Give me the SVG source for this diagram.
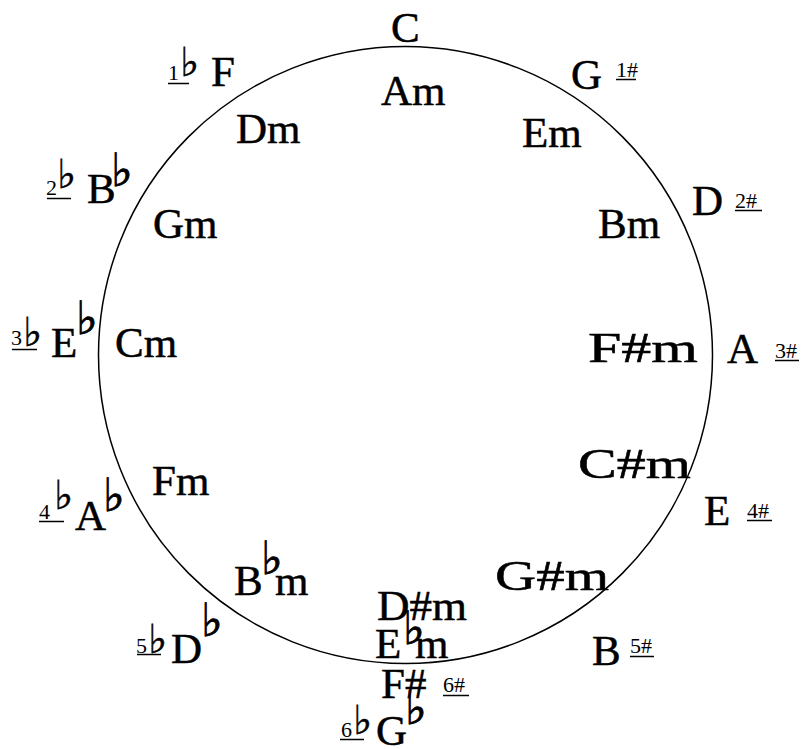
<svg xmlns="http://www.w3.org/2000/svg" width="806" height="749" viewBox="0 0 806 749">
<style>
.k{font-family:"Liberation Serif","Times New Roman",serif;font-size:43px;fill:#000;stroke:#000;stroke-width:0.5}
.n{font-family:"Liberation Serif","Times New Roman",serif;font-size:22px;fill:#000}
.f{font-family:"DejaVu Sans","DejaVu Serif",sans-serif;font-size:46px;fill:#000;stroke:#000;stroke-width:0.9}
.fs{font-family:"DejaVu Sans","DejaVu Serif",sans-serif;font-size:40px;fill:#000;stroke:#000;stroke-width:0.6}
.u{stroke:#000;stroke-width:1.5}
</style>
<rect width="806" height="749" fill="#fff"/>
<g id="connectors">
<ellipse cx="405.5" cy="355" rx="307" ry="308.5" fill="none" stroke="#000" stroke-width="1.5"/>
</g>
<g id="C"><text class="k" x="391" y="42">C</text></g>
<g id="Am"><text class="k" x="381" y="105">Am</text></g>
<g id="F"><text class="n" x="168" y="80">1</text><text class="fs" x="180" y="76">♭</text><line class="u" x1="168" y1="83.5" x2="189" y2="83.5"/><text class="k" x="211" y="86">F</text></g>
<g id="Dm"><text class="k" x="236" y="143">Dm</text></g>
<g id="G"><text class="k" x="571" y="89">G</text><text class="n" x="616" y="77">1#</text><line class="u" x1="616" y1="79.5" x2="636" y2="79.5"/></g>
<g id="Em"><text class="k" x="522" y="147">Em</text></g>
<g id="Bb"><text class="n" x="46" y="195">2</text><text class="fs" x="57" y="188">♭</text><line class="u" x1="47" y1="198.5" x2="71" y2="198.5"/><text class="k" x="87" y="203">B</text><text class="f" x="111" y="186">♭</text></g>
<g id="Gm"><text class="k" x="153" y="238">Gm</text></g>
<g id="D"><text class="k" x="692" y="215">D</text><text class="n" x="735" y="208">2#</text><line class="u" x1="735" y1="210.5" x2="762" y2="210.5"/></g>
<g id="Bm"><text class="k" x="598" y="238">Bm</text></g>
<g id="Eb"><text class="n" x="11" y="345">3</text><text class="fs" x="23" y="346">♭</text><line class="u" x1="12" y1="349.5" x2="37" y2="349.5"/><text class="k" x="51" y="357">E</text><text class="f" x="76" y="334">♭</text></g>
<g id="Cm"><text class="k" x="115" y="357">Cm</text></g>
<g id="A"><text class="k" x="727" y="363">A</text><text class="n" x="775" y="358">3#</text><line class="u" x1="775" y1="360.5" x2="799" y2="360.5"/></g>
<g id="Fsm"><text class="k" x="588" y="362" textLength="110" lengthAdjust="spacingAndGlyphs">F#m</text></g>
<g id="Ab"><text class="n" x="39" y="519">4</text><text class="fs" x="54" y="509">♭</text><line class="u" x1="39" y1="521.5" x2="64" y2="521.5"/><text class="k" x="75" y="530">A</text><text class="f" x="103" y="511">♭</text></g>
<g id="Fm"><text class="k" x="152" y="495">Fm</text></g>
<g id="E"><text class="k" x="704" y="525">E</text><text class="n" x="747" y="518">4#</text><line class="u" x1="747" y1="520.5" x2="772" y2="520.5"/></g>
<g id="Csm"><text class="k" x="578" y="478" textLength="113" lengthAdjust="spacingAndGlyphs">C#m</text></g>
<g id="Bbm"><text class="k" x="234" y="595">B</text><text class="f" x="261" y="574">♭</text><text class="k" x="275" y="595">m</text></g>
<g id="Gsm"><text class="k" x="495" y="590" textLength="114" lengthAdjust="spacingAndGlyphs">G#m</text></g>
<g id="Db"><text class="n" x="136" y="653">5</text><text class="fs" x="148" y="653">♭</text><line class="u" x1="137" y1="654.5" x2="161" y2="654.5"/><text class="k" x="171" y="663">D</text><text class="f" x="201" y="636">♭</text></g>
<g id="B"><text class="k" x="592" y="665">B</text><text class="n" x="630" y="653">5#</text><line class="u" x1="630" y1="656.5" x2="654" y2="656.5"/></g>
<g id="Dsm"><text class="k" x="377" y="620" textLength="90" lengthAdjust="spacingAndGlyphs">D#m</text></g>
<g id="Ebm"><text class="k" x="375" y="658">E</text><text class="f" x="403" y="644">♭</text><text class="k" x="415" y="658">m</text></g>
<g id="Fs"><text class="k" x="381" y="698">F#</text><text class="n" x="443" y="692">6#</text><line class="u" x1="443" y1="695.5" x2="469" y2="695.5"/></g>
<g id="Gb"><text class="n" x="341" y="737">6</text><text class="fs" x="353" y="734">♭</text><line class="u" x1="340" y1="739.5" x2="364" y2="739.5"/><text class="k" x="376" y="745">G</text><text class="f" x="405" y="724">♭</text></g>
</svg>
